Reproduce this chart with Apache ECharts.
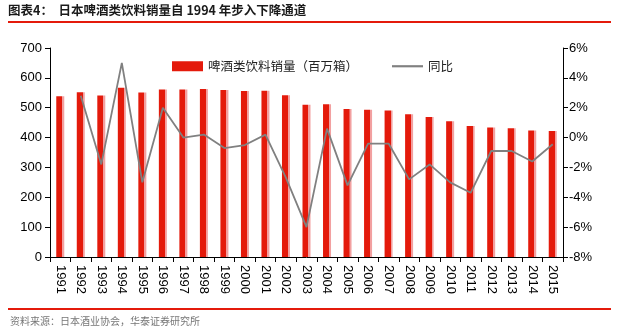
<!DOCTYPE html>
<html><head><meta charset="utf-8">
<script src="https://cdn.jsdelivr.net/npm/echarts@6/dist/echarts.min.js"></script>
<style>html,body{margin:0;padding:0;background:#fff}#c{width:619px;height:336px}</style>
</head><body><div id="c"></div>
<script>
const years = ['1991','1992','1993','1994','1995','1996','1997','1998','1999','2000','2001','2002','2003','2004','2005','2006','2007','2008','2009','2010','2011','2012','2013','2014','2015'];
const sales = [538,552,541,567,551,561,561,563,559,556,557,542,510,512,496,493,491,478,469,455,439,434,431,424,422];
const yoy = [null,2.8,-1.8,5.0,-3.0,2.0,0.0,0.2,-0.7,-0.5,0.2,-2.7,-6.0,0.6,-3.2,-0.4,-0.4,-2.8,-1.8,-3.0,-3.7,-0.9,-0.9,-1.6,-0.45];
const leftTicks = [0,100,200,300,400,500,600,700];
const rightTicks = [-8,-6,-4,-2,0,2,4,6];

const chart = echarts.init(document.getElementById('c'));
const font = 'Liberation Sans, Arial, sans-serif';
chart.setOption({
  animation:false,
  grid:{left:50,right:56,top:48,bottom:79},
  legend:{
    top:55,left:167,itemGap:34,itemTextGap:4,
    textStyle:{fontFamily:'Noto Sans CJK SC',fontSize:12.5,color:'#222'},
    data:[{name:'啤酒类饮料销量（百万箱）',icon:'rect',itemStyle:{color:'#E41A0B'}},
          {name:'同比',icon:'path://M0,0 L1,0 L1,0.07 L0,0.07 Z'}],
    itemWidth:31,itemHeight:10
  },
  xAxis:{type:'category',data:years,
    axisLine:{lineStyle:{color:'#000'}},
    axisTick:{show:true,alignWithLabel:false,lineStyle:{color:'#000'},length:5},
    axisLabel:{rotate:-90,fontFamily:font,fontSize:13,color:'#000',interval:0,margin:8}},
  yAxis:[
    {type:'value',min:0,max:700,interval:100,
     axisLine:{show:true,lineStyle:{color:'#000'}},
     axisTick:{show:true,lineStyle:{color:'#000'},length:5},
     splitLine:{show:false},
     axisLabel:{fontFamily:font,fontSize:13,color:'#000',margin:8}},
    {type:'value',min:-8,max:6,interval:2,position:'right',
     axisLine:{show:true,lineStyle:{color:'#000'}},
     axisTick:{show:true,lineStyle:{color:'#000'},length:5},
     splitLine:{show:false},
     axisLabel:{fontFamily:font,fontSize:13,color:'#000',margin:6,formatter:v=>v+'%'}}
  ],
  series:[
    {name:'啤酒类饮料销量（百万箱）',type:'bar',data:sales,barWidth:8,
     itemStyle:{color:new echarts.graphic.LinearGradient(0,0,1,0,[
       {offset:0,color:'#E41A0B'},{offset:0.74,color:'#E41A0B'},
       {offset:0.75,color:'#F2A0A0'},{offset:1,color:'#F2A0A0'}])}},
    {name:'同比',type:'line',yAxisIndex:1,data:yoy,symbol:'none',
     lineStyle:{color:'#808080',width:1.8},itemStyle:{color:'#808080'}}
  ],
  graphic:[
    {type:'text',left:8,top:4,style:{text:'图表4：  日本啤酒类饮料销量自 1994 年步入下降通道',
      font:'bold 12.5px "Noto Sans CJK SC"',fill:'#1a1a1a'}},
    {type:'rect',shape:{x:8,y:21,width:603,height:2},style:{fill:'#E41A0B'}},
    {type:'rect',shape:{x:8,y:308,width:603,height:2},style:{fill:'#E41A0B'}},
    {type:'text',left:10,top:316,style:{text:'资料来源：日本酒业协会，华泰证券研究所',
      font:'10px "Noto Sans CJK SC"',fill:'#777'}}
  ]
});
</script></body></html>
